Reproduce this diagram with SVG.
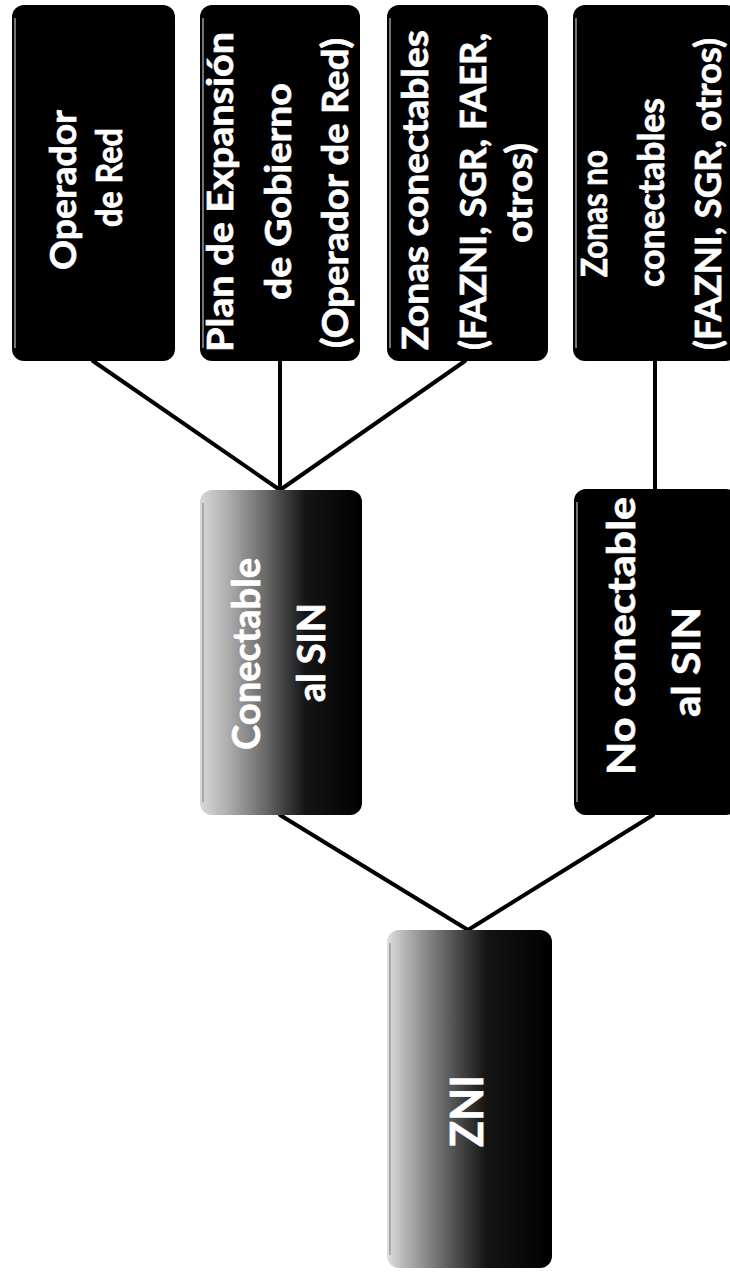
<svg xmlns="http://www.w3.org/2000/svg" width="730" height="1274" viewBox="0 0 730 1274">
<style>
.box{fill:#000;}
.edge{stroke:#9a9a9a;stroke-width:1.5;fill:none;}
.t{fill:#fff;stroke:#fff;stroke-width:0.7;font-family:Lato,"Open Sans","Liberation Sans",sans-serif;font-weight:bold;font-size:37px;text-anchor:middle;}
.tm{font-size:39px;}
.tz{font-size:46px;}
.con{stroke:#000;stroke-width:4;fill:none;stroke-linecap:round;}
</style>
<defs>
<linearGradient id="g1" x1="0" y1="0" x2="1" y2="0">
<stop offset="0" stop-color="#d8d8d8"/>
<stop offset="0.15" stop-color="#b4b4b4"/>
<stop offset="0.4" stop-color="#6a6a6a"/>
<stop offset="0.65" stop-color="#151515"/>
<stop offset="1" stop-color="#000"/>
</linearGradient>
<linearGradient id="g2" x1="0" y1="0" x2="1" y2="0">
<stop offset="0" stop-color="#e0e0e0"/>
<stop offset="0.12" stop-color="#b0b0b0"/>
<stop offset="0.38" stop-color="#5a5a5a"/>
<stop offset="0.6" stop-color="#151515"/>
<stop offset="1" stop-color="#000"/>
</linearGradient>
</defs>
<g id="connectors">
<line class="con" x1="93" y1="361" x2="280" y2="490"/>
<line class="con" x1="280" y1="361" x2="280" y2="490"/>
<line class="con" x1="465" y1="361" x2="280" y2="490"/>
<line class="con" x1="655" y1="361" x2="655" y2="489"/>
<line class="con" x1="280" y1="815" x2="468" y2="930"/>
<line class="con" x1="653" y1="815" x2="468" y2="930"/>
</g>
<g id="operador-red">
<rect class="box" x="12" y="5" width="163" height="356" rx="12"/>
<line class="edge" x1="15" y1="18" x2="15" y2="348"/>
<text class="t" transform="translate(76,190) rotate(-90)" textLength="160" lengthAdjust="spacingAndGlyphs">Operador</text>
<text class="t" transform="translate(122,177.5) rotate(-90)" textLength="99" lengthAdjust="spacingAndGlyphs">de Red</text>
</g>
<g id="plan-expansion">
<rect class="box" x="200" y="5" width="160" height="356" rx="12"/>
<line class="edge" x1="203" y1="18" x2="203" y2="348"/>
<text class="t" transform="translate(233,192) rotate(-90)" textLength="320" lengthAdjust="spacingAndGlyphs">Plan de Expansión</text>
<text class="t" transform="translate(291,191.5) rotate(-90)" textLength="217" lengthAdjust="spacingAndGlyphs">de Gobierno</text>
<text class="t" transform="translate(348,193) rotate(-90)" textLength="310" lengthAdjust="spacingAndGlyphs">(Operador de Red)</text>
</g>
<g id="zonas-conectables">
<rect class="box" x="387" y="5" width="161" height="356" rx="12"/>
<line class="edge" x1="390" y1="18" x2="390" y2="348"/>
<text class="t" transform="translate(428,190) rotate(-90)" textLength="320" lengthAdjust="spacingAndGlyphs">Zonas conectables</text>
<text class="t" transform="translate(486,191.5) rotate(-90)" textLength="317" lengthAdjust="spacingAndGlyphs">(FAZNI, SGR, FAER,</text>
<text class="t" transform="translate(532,193) rotate(-90)" textLength="100" lengthAdjust="spacingAndGlyphs">otros)</text>
</g>
<g id="zonas-no-conectables">
<rect class="box" x="573" y="5" width="165" height="356" rx="12"/>
<line class="edge" x1="576" y1="18" x2="576" y2="348"/>
<text class="t" transform="translate(607,213.5) rotate(-90)" textLength="127" lengthAdjust="spacingAndGlyphs">Zonas no</text>
<text class="t" transform="translate(664,192.5) rotate(-90)" textLength="189" lengthAdjust="spacingAndGlyphs">conectables</text>
<text class="t" transform="translate(721,194) rotate(-90)" textLength="312" lengthAdjust="spacingAndGlyphs">(FAZNI, SGR, otros)</text>
</g>
<g id="conectable-sin">
<rect x="200" y="490" width="162" height="325" rx="12" fill="url(#g1)"/>
<line class="edge" x1="203" y1="503" x2="203" y2="802"/>
<text class="t tm" transform="translate(260,654) rotate(-90)" textLength="192" lengthAdjust="spacingAndGlyphs">Conectable</text>
<text class="t tm" transform="translate(325,652.5) rotate(-90)" textLength="99" lengthAdjust="spacingAndGlyphs">al SIN</text>
</g>
<g id="no-conectable-sin">
<rect class="box" x="574" y="489" width="164" height="326" rx="12"/>
<line class="edge" x1="577" y1="502" x2="577" y2="802"/>
<text class="t tm" transform="translate(635,636) rotate(-90)" textLength="278" lengthAdjust="spacingAndGlyphs">No conectable</text>
<text class="t tm" transform="translate(700,662) rotate(-90)" textLength="110" lengthAdjust="spacingAndGlyphs">al SIN</text>
</g>
<g id="zni">
<rect x="387" y="930" width="165" height="338" rx="12" fill="url(#g2)"/>
<line class="edge" x1="390" y1="943" x2="390" y2="1255"/>
<text class="t tz" transform="translate(483,1111) rotate(-90)" textLength="72" lengthAdjust="spacingAndGlyphs">ZNI</text>
</g>
</svg>
